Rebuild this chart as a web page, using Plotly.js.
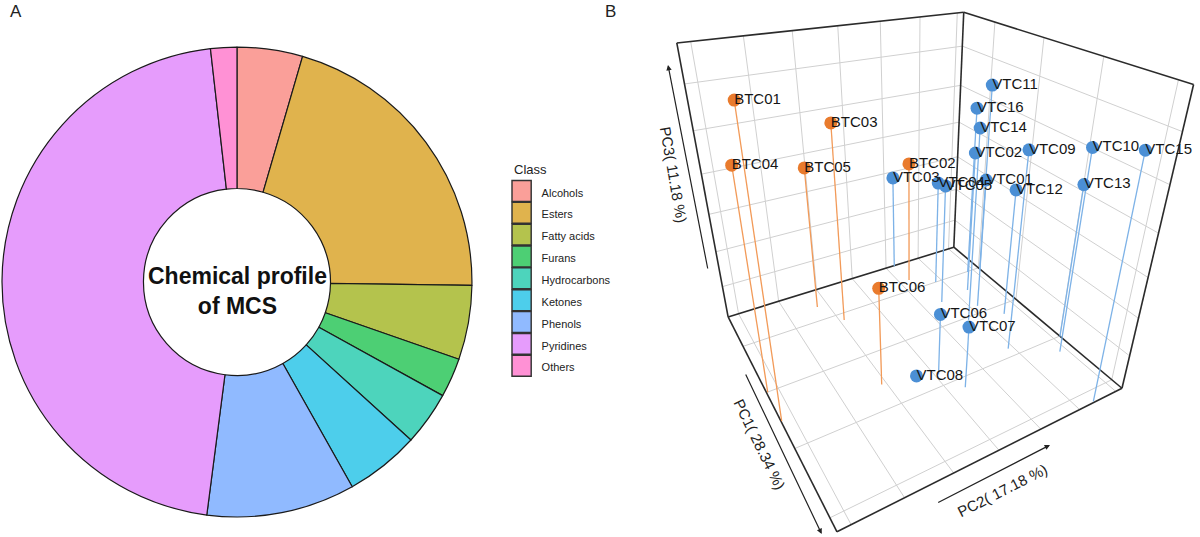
<!DOCTYPE html>
<html><head><meta charset="utf-8">
<script src="https://cdn.plot.ly/plotly-3.0.1.min.js"></script>
<style>html,body{margin:0;padding:0;background:#fff}#chart{width:1200px;height:537px}</style>
</head><body><div id="chart"></div>
<script>
// ---------- Panel A data ----------
const classes = ['Alcohols','Esters','Fatty acids','Furans','Hydrocarbons','Ketones','Phenols','Pyridines','Others'];
const classShare = [4.5, 20.7, 5.1, 2.7, 3.7, 5.1, 10.2, 46.1, 1.8];
const classColors = ['#FA9F99','#E0B34D','#B4C34D','#4DCF74','#4DD4BC','#4DCEEB','#90BAFF','#E69CFC','#FF91D5'];

// ---------- Panel B data (PCA scores) ----------
const btcNames = ['BTC01','BTC02','BTC03','BTC04','BTC05','BTC06'];
const btcPC1 = [1.08, -4.89, -3.50, -0.70, -5.10, 1.25];
const btcPC2 = [-4.98, 2.02, -1.34, -4.96, -1.90, -1.66];
const btcPC3 = [3.98, 0.12, 2.13, 2.30, 0.63, -0.95];

const vtcNames = ['VTC01','VTC02','VTC03','VTC04','VTC05','VTC06','VTC07','VTC08','VTC09','VTC10','VTC11','VTC12','VTC13','VTC14','VTC15','VTC16'];
const vtcPC1 = [-1.23, -2.60, -6.45, -4.03, -2.39, 1.94, 3.15, 1.57, 2.10, 3.43, -3.82, -0.05, 2.64, -0.53, 6.45, -3.98];
const vtcPC2 = [3.45, 3.70, 1.98, 2.89, 2.39, 0.18, 0.62, -0.50, 2.97, 4.44, 4.95, 4.04, 4.98, 2.67, 3.78, 4.43];
const vtcPC3 = [0.27, 0.71, -0.72, -0.44, -0.01, -2.00, -2.02, -3.98, 1.98, 2.10, 2.30, 0.17, 0.85, 2.02, 2.82, 1.66];

// axis ranges and grid (tick) spacing of the 3-D box
const PC1_RANGE = [-6.5, 6.5], PC1_TICK0 = -4.03, PC1_DTICK = 3.315;
const PC2_RANGE = [-5, 5],     PC2_TICK0 = -4.61, PC2_DTICK = 1.555;
const PC3_RANGE = [-4, 4],     PC3_TICK0 = -2.90, PC3_DTICK = 1.187;

const FONT = 'Liberation Sans, Arial, sans-serif';

// ---------- perspective camera for the 3-D panel (no WebGL available) ----------
// box is normalised to the cube [-1,1]^3
const CAM = {eye: [2.857, -1.628, 1.871], azimuth: 148.9, elevation: -30.26, roll: 0.816,
             focal: 616, principal: [325, 232], size: [600, 537]};
const rad = Math.PI / 180;
const dot = (a, b) => a[0]*b[0] + a[1]*b[1] + a[2]*b[2];
const FWD = [Math.cos(CAM.elevation*rad)*Math.cos(CAM.azimuth*rad),
             Math.cos(CAM.elevation*rad)*Math.sin(CAM.azimuth*rad),
             Math.sin(CAM.elevation*rad)];
const R0 = (() => { const l = Math.hypot(FWD[0], FWD[1]); return [FWD[1]/l, -FWD[0]/l, 0]; })();
const U0 = [R0[1]*FWD[2] - R0[2]*FWD[1], R0[2]*FWD[0] - R0[0]*FWD[2], R0[0]*FWD[1] - R0[1]*FWD[0]];
const cr = Math.cos(CAM.roll*rad), sr = Math.sin(CAM.roll*rad);
const RIGHT = R0.map((v, i) => v*cr + U0[i]*sr);
const UP = U0.map((v, i) => v*cr - R0[i]*sr);

function nrm(v, r) { return 2*(v - r[0])/(r[1] - r[0]) - 1; }
function project(p1, p2, p3) {
  const d = [nrm(p1, PC1_RANGE) - CAM.eye[0], nrm(p2, PC2_RANGE) - CAM.eye[1], nrm(p3, PC3_RANGE) - CAM.eye[2]];
  const w = dot(d, FWD);
  return [dot(d, RIGHT)/w, dot(d, UP)/w];
}
function segs(list) {           // list of [[p1,p2,p3],[p1,p2,p3]] segments -> x/y with gaps
  const x = [], y = [];
  list.forEach(([a, b]) => {
    const pa = project(...a), pb = project(...b);
    x.push(pa[0], pb[0], null); y.push(pa[1], pb[1], null);
  });
  return {x, y};
}
function ticks(range, t0, dt) {
  const out = [];
  for (let v = t0; v <= range[1] + 1e-9; v += dt) if (v >= range[0]) out.push(v);
  return out;
}

const [x0, x1] = PC1_RANGE, [y0, y1] = PC2_RANGE, [z0, z1] = PC3_RANGE;
const gx = ticks(PC1_RANGE, PC1_TICK0, PC1_DTICK);
const gy = ticks(PC2_RANGE, PC2_TICK0, PC2_DTICK);
const gz = ticks(PC3_RANGE, PC3_TICK0, PC3_DTICK);

const gridSegs = [];
gy.forEach(v => { gridSegs.push([[x0, v, z0], [x0, v, z1]]); gridSegs.push([[x0, v, z0], [x1, v, z0]]); });
gz.forEach(v => { gridSegs.push([[x0, y0, v], [x0, y1, v]]); gridSegs.push([[x0, y1, v], [x1, y1, v]]); });
gx.forEach(v => { gridSegs.push([[v, y1, z0], [v, y1, z1]]); gridSegs.push([[v, y0, z0], [v, y1, z0]]); });
const grid = segs(gridSegs);

const frame = segs([
  [[x0,y0,z0],[x1,y0,z0]], [[x1,y0,z0],[x1,y1,z0]], [[x1,y1,z0],[x0,y1,z0]], [[x0,y1,z0],[x0,y0,z0]],
  [[x0,y0,z0],[x0,y0,z1]], [[x0,y1,z0],[x0,y1,z1]], [[x1,y1,z0],[x1,y1,z1]],
  [[x0,y0,z1],[x0,y1,z1]], [[x0,y1,z1],[x1,y1,z1]]
]);

const dropOf = (a, b, c) => segs(a.map((v, i) => [[v, b[i], c[i]], [v, b[i], z0]]));
const btcDrop = dropOf(btcPC1, btcPC2, btcPC3);
const vtcDrop = dropOf(vtcPC1, vtcPC2, vtcPC3);
const btcXY = btcPC1.map((v, i) => project(v, btcPC2[i], btcPC3[i]));
const vtcXY = vtcPC1.map((v, i) => project(v, vtcPC2[i], vtcPC3[i]));

const ORANGE = '#E97B2D', BLUE = '#4B8FD5';
const line2d = (d, color, width) => ({type: 'scatter', mode: 'lines', x: d.x, y: d.y, line: {color, width},
  hoverinfo: 'skip', showlegend: false, xaxis: 'x', yaxis: 'y', cliponaxis: false});

const traces = [
  {
    type: 'pie', labels: classes.map(c => '<span style="font-size:11px">' + c + '</span>'), values: classShare,
    sort: false, direction: 'clockwise', rotation: 0,
    hole: 0.398, textinfo: 'none', hoverinfo: 'skip',
    marker: {colors: classColors, line: {color: '#1a1a1a', width: 1.2}},
    domain: {x: [0.00167, 0.3933], y: [0.0354, 0.9143]}
  },
  line2d(grid, '#d0d0d0', 1),
  line2d(frame, '#2b2b2b', 1.6),
  line2d(btcDrop, '#F29A58', 1.3),
  line2d(vtcDrop, '#7DB2E7', 1.3),
  {type: 'scatter', mode: 'markers', x: vtcXY.map(p => p[0]), y: vtcXY.map(p => p[1]),
   marker: {size: 13, color: BLUE}, hoverinfo: 'skip', showlegend: false, cliponaxis: false},
  {type: 'scatter', mode: 'markers', x: btcXY.map(p => p[0]), y: btcXY.map(p => p[1]),
   marker: {size: 13, color: ORANGE}, hoverinfo: 'skip', showlegend: false, cliponaxis: false},
  {type: 'scatter', mode: 'text', x: vtcXY.map(p => p[0]), y: vtcXY.map(p => p[1]), text: vtcNames,
   textposition: 'middle right', textfont: {family: FONT, size: 15, color: '#151515'},
   hoverinfo: 'skip', showlegend: false, cliponaxis: false},
  {type: 'scatter', mode: 'text', x: btcXY.map(p => p[0]), y: btcXY.map(p => p[1]), text: btcNames,
   textposition: 'middle right', textfont: {family: FONT, size: 15, color: '#151515'},
   hoverinfo: 'skip', showlegend: false, cliponaxis: false}
];

const hiddenAxis = (domain, range) => ({domain, range, autorange: false, visible: false, showgrid: false,
  zeroline: false, showticklabels: false, fixedrange: true});

const layout = {
  width: 1200, height: 537,
  margin: {l: 0, r: 0, t: 0, b: 0},
  paper_bgcolor: '#fff', plot_bgcolor: 'rgba(0,0,0,0)',
  hovermode: false,
  font: {family: FONT, color: '#222'},
  showlegend: true,
  legend: {
    x: 0.418, y: 1 - 175/537, xanchor: 'left', yanchor: 'top',
    font: {size: 14.5, family: FONT, color: '#222'},
    bgcolor: 'rgba(0,0,0,0)', traceorder: 'normal'
  },
  xaxis: hiddenAxis([0.5, 1], [-CAM.principal[0]/CAM.focal, (CAM.size[0] - CAM.principal[0])/CAM.focal]),
  yaxis: hiddenAxis([0, 1], [-(CAM.size[1] - CAM.principal[1])/CAM.focal, CAM.principal[1]/CAM.focal]),
  annotations: [
    {xref: 'paper', yref: 'paper', x: 8/1200, y: 1 - 12/537, text: 'A', showarrow: false, font: {size: 17, family: FONT, color: '#222'}, xanchor: 'left', yanchor: 'middle'},
    {xref: 'paper', yref: 'paper', x: 603/1200, y: 1 - 12/537, text: 'B', showarrow: false, font: {size: 17, family: FONT, color: '#222'}, xanchor: 'left', yanchor: 'middle'},
    {xref: 'paper', yref: 'paper', x: 512/1200, y: 1 - 169/537, text: 'Class', showarrow: false, font: {size: 13, family: FONT, color: '#222'}, xanchor: 'left', yanchor: 'middle'},
    {xref: 'paper', yref: 'paper', x: 237/1200, y: 1 - 291/537, text: '<b>Chemical profile</b><br><b>of MCS</b>', showarrow: false,
     font: {size: 23, family: FONT, color: '#111'}, xanchor: 'center', yanchor: 'middle'},
    {xref: 'paper', yref: 'paper', x: 674/1200, y: 1 - 174/537, text: 'PC3( 11.18 %)', textangle: 80, showarrow: false,
     font: {size: 15, family: FONT, color: '#222'}, xanchor: 'center', yanchor: 'middle'},
    {xref: 'paper', yref: 'paper', x: 760/1200, y: 1 - 444/537, text: 'PC1( 28.34 %)', textangle: 64, showarrow: false,
     font: {size: 15, family: FONT, color: '#222'}, xanchor: 'center', yanchor: 'middle'},
    {xref: 'paper', yref: 'paper', x: 1002/1200, y: 1 - 490/537, text: 'PC2( 17.18 %)', textangle: -27, showarrow: false,
     font: {size: 15, family: FONT, color: '#222'}, xanchor: 'center', yanchor: 'middle'},
    {xref: 'paper', yref: 'paper', x: 668/1200, y: 1 - 65/537, ax: 40, ay: 205, text: '', showarrow: true,
     arrowhead: 2, arrowsize: 0.9, arrowwidth: 1.2, arrowcolor: '#222'},
    {xref: 'paper', yref: 'paper', x: 821.7/1200, y: 1 - 534/537, ax: -76.7, ay: -161, text: '', showarrow: true,
     arrowhead: 2, arrowsize: 0.9, arrowwidth: 1.2, arrowcolor: '#222'},
    {xref: 'paper', yref: 'paper', x: 1050/1200, y: 1 - 445/537, ax: -113.3, ay: 58.3, text: '', showarrow: true,
     arrowhead: 2, arrowsize: 0.9, arrowwidth: 1.2, arrowcolor: '#222'}
  ]
};

Plotly.newPlot('chart', traces, layout, {displayModeBar: false, staticPlot: true}).then(gd => {
  gd.querySelectorAll('.legend .legendpoints path').forEach(p => {
    p.setAttribute('transform', (p.getAttribute('transform') || '') + ' scale(1.6,1.75)');
    p.style.strokeWidth = '0.9px';
    p.style.stroke = '#333';
  });
});
</script>
</body></html>
